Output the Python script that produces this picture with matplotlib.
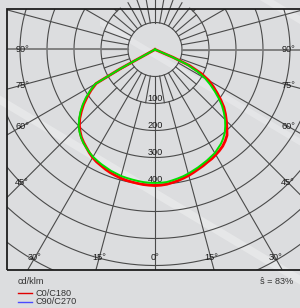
import numpy as np
import matplotlib
matplotlib.use("Agg")
import matplotlib.pyplot as plt
from matplotlib.patches import Rectangle, Polygon
from matplotlib.lines import Line2D

plt.rcParams['font.family'] = ['Liberation Sans', 'DejaVu Sans']

# gamma angles (deg) and intensities in chart radial units (hole edge = 100, ring step = 100)
g_c0 = list(np.arange(0, 65.1, 2.5)) + [66.5, 67.5]
c0 = [504, 503, 501, 497, 493, 488, 483, 477, 471, 466, 460, 456, 450, 444, 437, 427,
      415, 394, 374, 354, 333, 307, 281, 256, 230, 193, 141, 74, 0]
g_c180 = list(np.arange(0, 60.1, 2.5)) + [61, 62]
c180 = [504, 503, 502, 500, 498, 496, 493, 489, 485, 480, 474, 469, 462, 453, 443, 434,
        424, 411, 396, 378, 356, 333, 307, 281, 252, 148, 0]
g_c90 = list(np.arange(0, 65.1, 2.5)) + [66.5, 67.5]
c90 = [494, 494, 493, 489, 485, 481, 476, 470, 465, 459, 454, 448, 443, 434, 426, 415,
       402, 385, 367, 346, 324, 298, 270, 243, 215, 178, 130, 67, 0]
g_c270 = list(np.arange(0, 60.1, 2.5)) + [61, 62]
c270 = [494, 494, 493, 491, 489, 487, 485, 481, 478, 473, 469, 464, 459, 452, 444, 436,
        426, 414, 400, 381, 361, 338, 313, 285, 256, 148, 0]

ring_values = [200, 300, 400, 500]
ring_labels = ['100', '200', '300', '400']
side_angles = [90, 75, 60, 45]
bottom_angles = [30, 15, 0]

BG = '#dcdddf'
W, H = 300, 308

fig = plt.figure(figsize=(W / 100, H / 100), dpi=100)
fig.patch.set_facecolor(BG)

# light gloss stripes
def stripe(x0, y0, x1, y1, w, alpha):
    pts = [(x0, y0 - w / 2), (x1, y1 - w / 2), (x1, y1 + w / 2), (x0, y0 + w / 2)]
    pts = [(x / W, (H - y) / H) for x, y in pts]
    fig.add_artist(Polygon(pts, closed=True, transform=fig.transFigure,
                           facecolor='white', edgecolor='none', alpha=alpha, zorder=-1))

stripe(-10, 94, 310, 286, 9, 0.3)
stripe(100, 22, 310, 148, 7, 0.25)
stripe(250, -10, 310, 26, 8, 0.3)

cx, cy, R = 155, 49.5, 270
ax = fig.add_axes([(cx - R) / W, (H - cy - R) / H, 2 * R / W, 2 * R / H], projection='polar')
ax.set_theta_zero_location('S')
ax.set_ylim(0, 1000)
ax.grid(False)
ax.set_xticks([])
ax.set_yticks([])
ax.spines['polar'].set_visible(False)
ax.patch.set_visible(False)

clip = Rectangle((7 / W, (H - 270) / H), 296 / W, 261 / H, transform=fig.transFigure,
                 facecolor='none', edgecolor='none')
fig.add_artist(clip)

gc = '#4a4a4a'
t = np.linspace(0, 2 * np.pi, 721)
for r in range(100, 1001, 100):
    ln, = ax.plot(t, np.full_like(t, r), color=gc, lw=0.8)
    ln.set_clip_path(clip)
for a in range(0, 360, 10):
    ax.plot([np.radians(a)] * 2, [100, 200], color=gc, lw=0.8)
for a in range(0, 360, 15):
    th = np.radians(a)
    if a % 180 == 90:
        ln, = ax.plot([th, th], [100, 1000], color='#7a7a7a', lw=1.3)
    else:
        ln, = ax.plot([th, th], [200, 1000], color=gc, lw=0.8)
    ln.set_clip_path(clip)

# curves: C180 / C270 on the left (negative theta), C0 / C90 on the right
def half_join(g_left, v_left, g_right, v_right):
    th = np.concatenate([-np.radians(g_left)[::-1], np.radians(g_right)[1:]])
    rr = np.concatenate([np.array(v_left)[::-1], np.array(v_right)[1:]])
    return th, rr

red_t, red_r = half_join(g_c180, c180, g_c0, c0)
grn_t, grn_r = half_join(g_c270, c270, g_c90, c90)
ax.plot(red_t, red_r, color='#ff0000', lw=2.0, zorder=5)
ax.plot(grn_t, grn_r, color='#00e000', lw=1.4, zorder=6)

fs = 6.6
tc = '#1a1a1a'
for v, lab in zip(ring_values, ring_labels):
    ax.text(0, v - 20, lab, ha='center', va='center', fontsize=fs, color=tc)

kpx = R / 1000
for a in side_angles:
    r = 133 / np.sin(np.radians(a)) / kpx
    for s in (-1, 1):
        ax.text(s * np.radians(a), r, f'{a}°', ha='center', va='center', fontsize=fs, color=tc)
for a in bottom_angles:
    r = 208.5 / np.cos(np.radians(a)) / kpx
    signs = (1,) if a == 0 else (-1, 1)
    for s in signs:
        ax.text(s * np.radians(a), r, f'{a}°', ha='center', va='center', fontsize=fs, color=tc)

fig.add_artist(Rectangle((7 / W, (H - 270) / H), 296 / W, 261 / H, transform=fig.transFigure,
                         facecolor='none', edgecolor='#1e1e1e', lw=1.3, zorder=10))

fig.text(18 / W, (H - 281) / H, 'cd/klm', fontsize=fs, color='#333333', va='center', ha='left')
fig.text(293 / W, (H - 281) / H, 'ŝ = 83%', fontsize=fs, color='#333333', va='center', ha='right')
fig.add_artist(Line2D([18 / W, 32 / W], [(H - 293) / H] * 2, color='#e00000', lw=1.0,
                      transform=fig.transFigure))
fig.add_artist(Line2D([18 / W, 32 / W], [(H - 302) / H] * 2, color='#4a4aff', lw=1.0,
                      transform=fig.transFigure))
fig.text(35 / W, (H - 293) / H, 'C0/C180', fontsize=fs, color='#333333', va='center', ha='left')
fig.text(35 / W, (H - 302) / H, 'C90/C270', fontsize=fs, color='#333333', va='center', ha='left')

fig.savefig('out.png', dpi=100, facecolor=fig.get_facecolor())
